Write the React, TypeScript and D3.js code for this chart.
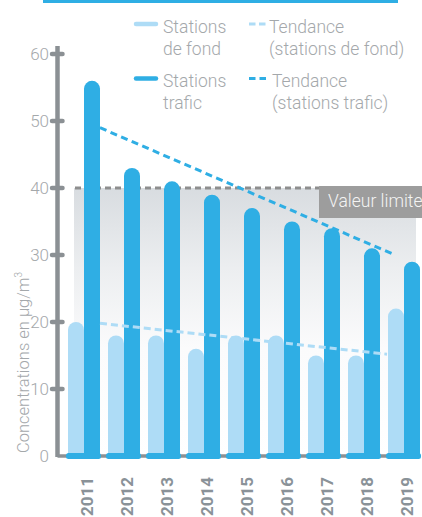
import React from "react";
import * as d3 from "d3";

const years = ["2011", "2012", "2013", "2014", "2015", "2016", "2017", "2018", "2019"];
const fondValues = [20, 18, 18, 16, 18, 18, 15, 15, 22];
const traficValues = [56, 43, 41, 39, 37, 35, 34, 31, 29];
const yTicks = [0, 10, 20, 30, 40, 50, 60];
const trendFond = [19.8, 15.2];
const trendTrafic = [49, 30];
const limitValue = 40;

const W = 422;
const H = 517;
const DARK = "#2faee4";
const LIGHT = "#aedcf6";
const AXIS = "#8b9094";
const TEXT = "#a4a8ab";
const FONT = "Roboto, 'DejaVu Sans', sans-serif";

function topRoundedBar(x: number, yTop: number, w: number, yBottom: number) {
  const r = w / 2;
  const p = d3.path();
  p.moveTo(x, yBottom);
  p.lineTo(x, yTop + r);
  p.arc(x + r, yTop + r, r, Math.PI, 0);
  p.lineTo(x + w, yBottom);
  p.closePath();
  return p.toString();
}

export default function App() {
  const x = d3.scaleBand<string>().domain(years).range([68, 420]).paddingInner(0.2).paddingOuter(0);
  const y = d3.scaleLinear().domain([0, 60]).range([456, 54]);
  const bw = x.bandwidth() / 2;
  const base = y(0);

  const trendStart = (x(years[0]) as number) + 2 * bw;
  const lastX = x(years[years.length - 1]) as number;
  const fondLine = d3.line<[number, number]>()([
    [trendStart, y(trendFond[0])],
    [lastX - 1, y(trendFond[1])],
  ]);
  const traficLine = d3.line<[number, number]>()([
    [trendStart, y(trendTrafic[0])],
    [lastX + 7, y(trendTrafic[1])],
  ]);

  return (
    <svg width={W} height={H} style={{ position: "absolute", left: 0, top: 0 }} fontFamily={FONT}>
      <defs>
        <linearGradient id="limitFill" x1="0" y1="0" x2="0" y2="1">
          <stop offset="0" stopColor="#d8dce0" />
          <stop offset="0.3" stopColor="#eceef0" />
          <stop offset="0.6" stopColor="#fbfbfc" />
          <stop offset="1" stopColor="#ffffff" />
        </linearGradient>
      </defs>

      {/* header rule */}
      <rect x={43} y={0} width={355} height={3} fill={DARK} />

      {/* legend */}
      <g fontWeight={300} fontSize={17.5} fill={TEXT}>
        <line x1={136} x2={156} y1={24} y2={24} stroke={LIGHT} strokeWidth={4.5} strokeLinecap="round" />
        <text x={163} y={33}>Stations</text>
        <text x={163} y={55}>de fond</text>
        <line x1={136} x2={156} y1={78.5} y2={78.5} stroke={DARK} strokeWidth={4.5} strokeLinecap="round" />
        <text x={163} y={87}>Stations</text>
        <text x={163} y={109}>trafic</text>
        <line x1={249} x2={266} y1={24} y2={24} stroke={LIGHT} strokeWidth={3} strokeDasharray="6.5 3.5" />
        <text x={269} y={33}>Tendance</text>
        <text x={269} y={55}>(stations de fond)</text>
        <line x1={249} x2={266} y1={78.5} y2={78.5} stroke={DARK} strokeWidth={3} strokeDasharray="6.5 4" />
        <text x={272} y={87}>Tendance</text>
        <text x={272} y={109}>(stations trafic)</text>
      </g>

      {/* limit zone */}
      <rect x={74} y={y(limitValue)} width={342} height={base - y(limitValue)} fill="url(#limitFill)" />
      <line x1={75} x2={319} y1={y(limitValue)} y2={y(limitValue)} stroke="#8e8e8e" strokeWidth={3} strokeDasharray="6 4" />
      <rect x={319} y={y(limitValue) - 2} width={110} height={32} fill="#9d9d9d" />
      <text x={328} y={y(limitValue) + 18.5} fontSize={17.5} fontWeight={300} fill="#f4f4f4">Valeur limite</text>

      {/* bars */}
      {years.map((yr, i) => {
        const gx = x(yr) as number;
        return (
          <g key={yr}>
            <path d={topRoundedBar(gx, y(fondValues[i]), bw, base)} fill={LIGHT} />
            <path d={topRoundedBar(gx + bw, y(traficValues[i]), bw, base)} fill={DARK} />
          </g>
        );
      })}

      {/* trend lines */}
      <path d={fondLine ?? ""} fill="none" stroke={LIGHT} strokeWidth={3} strokeDasharray="7 4" />
      <path d={traficLine ?? ""} fill="none" stroke={DARK} strokeWidth={3} strokeDasharray="7 4.5" />

      {/* axes */}
      <line x1={57.5} x2={420} y1={base} y2={base} stroke={AXIS} strokeWidth={3.5} />
      {years.map((yr) => {
        const gx = x(yr) as number;
        return <rect key={yr} x={gx - 2} y={base - 3} width={2 * bw + 3} height={6} rx={2.5} fill={DARK} />;
      })}
      <line x1={57.5} x2={57.5} y1={46} y2={base + 1} stroke={AXIS} strokeWidth={4.5} />
      {yTicks.map((t) => (
        <g key={t}>
          {t > 0 && (
            <line x1={52} x2={62.5} y1={y(t)} y2={y(t)} stroke={AXIS} strokeWidth={4.5} strokeLinecap="round" />
          )}
          <text x={49} y={y(t) + 6} textAnchor="end" fontSize={17} fontWeight={300} fill={TEXT}>
            {t}
          </text>
        </g>
      ))}

      <text
        transform={`translate(28.5, 453) rotate(-90)`}
        fontSize={16.5}
        fontWeight={300}
        fill={TEXT}
      >
        Concentrations en µg/m<tspan dy={-7} fontSize={10}>3</tspan>
      </text>

      {/* year labels */}
      {years.map((yr) => {
        const gx = x(yr) as number;
        return (
          <text
            key={yr}
            transform={`translate(${gx + bw + 9}, 477) rotate(-90)`}
            textAnchor="end"
            fontSize={17}
            fontWeight={700}
            fill="#8a9298"
          >
            {yr}
          </text>
        );
      })}
    </svg>
  );
}
